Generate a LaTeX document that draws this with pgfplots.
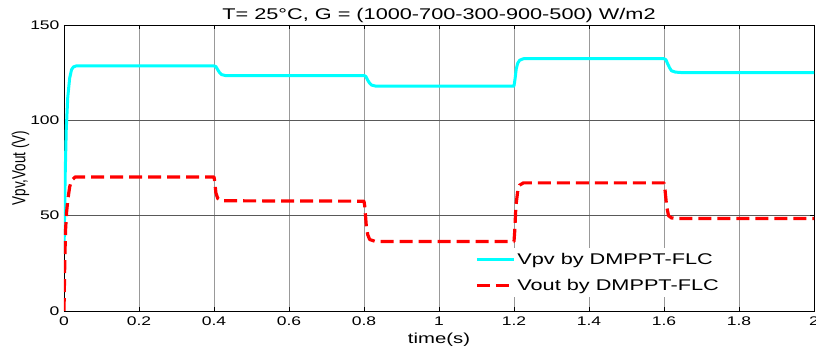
\documentclass[border=0pt]{standalone}
\usepackage{fontspec}
\setmainfont{Liberation Sans}[FakeStretch=1.4]
\newfontfamily\plainsans{Liberation Sans}
\usepackage{pgfplots}
\pgfplotsset{compat=1.18}
\usepackage{graphicx}

\definecolor{vpvcol}{RGB}{0,255,255}
\definecolor{voutcol}{RGB}{255,0,0}

\begin{document}
\begin{tikzpicture}
\begin{axis}[
  name=ax,
  scale only axis,
  width=750pt, height=286pt,
  xmin=0, xmax=2, ymin=0, ymax=150,
  xtick={0,0.2,...,2.01},
  ytick={0,50,100,150},
  xticklabels={0,0.2,0.4,0.6,0.8,1,1.2,1.4,1.6,1.8,2},
  tick align=inside,
  major tick length=4pt,
  tick style={black, line width=0.6pt},
  axis line style={black, line width=0.9pt},
  /pgf/number format/assume math mode=true,
  tick label style={font=\fontsize{12.5}{14}\selectfont},
  xticklabel style={yshift=-2pt},
  yticklabel style={xshift=-1pt},
  grid=major,
  x grid style={black!40, line width=0.8pt},
  y grid style={black!65, line width=0.6pt},
  title={T= 25°C, G = (1000-700-300-900-500) W/m2},
  title style={font=\fontsize{15.5}{17}\selectfont, yshift=-7pt},
  xlabel={time(s)},
  xlabel style={font=\fontsize{14.5}{16}\selectfont, yshift=-1pt},
  ylabel={\scalebox{1}[1.4]{\plainsans\fontsize{13.5}{15}\selectfont Vpv,Vout (V)}},
  ylabel style={xshift=0pt, yshift=-6pt},
  legend cell align=left,
  legend style={
    at={(0.54,0.22)}, anchor=north west,
    draw=none, fill=white,
    font=\fontsize{15.5}{17}\selectfont,
    row sep=9pt, inner xsep=6pt, inner ysep=3pt,
  },
  legend image code/.code={\draw[#1] (0pt,0pt) -- (37pt,0pt);},
]
% PV-side voltage of the DMPPT-FLC converter
\addplot[vpvcol, line width=3pt, line join=round] coordinates {
  (0,30) (0.003,70) (0.006,95) (0.01,112) (0.015,122) (0.02,126.5)
  (0.025,128) (0.032,128.5) (0.4,128.5) (0.405,128.2) (0.41,126.5)
  (0.415,125) (0.42,124) (0.43,123.5) (0.8,123.5) (0.805,123) (0.81,121)
  (0.815,119.5) (0.82,118.5) (0.83,118) (1.2,118) (1.203,122) (1.206,127)
  (1.21,130) (1.215,131.5) (1.225,132.3) (1.6,132.3) (1.605,131.8)
  (1.61,129.5) (1.615,127.5) (1.62,126) (1.63,125.3) (1.65,125) (2.0,125)
};
\addlegendentry{Vpv by DMPPT-FLC}
% Output voltage of the DMPPT-FLC converter
\addplot[voutcol, line width=3.2pt, dash pattern=on 13pt off 6pt, line join=round] coordinates {
  (0,0) (0.002,25) (0.004,42) (0.007,52) (0.01,58) (0.015,65) (0.02,68.5)
  (0.03,70.3) (0.4,70.3) (0.402,68) (0.405,62) (0.41,59) (0.42,57.8)
  (0.8,57.6) (0.802,55) (0.806,45) (0.81,40) (0.815,37.5) (0.83,36.5)
  (1.2,36.5) (1.202,42) (1.205,55) (1.21,63) (1.215,66) (1.225,67.2)
  (1.6,67.2) (1.603,63) (1.607,55) (1.612,50) (1.62,48.8) (1.64,48.5)
  (2.0,48.5)
};
\addlegendentry{Vout by DMPPT-FLC}
\end{axis}
\pgfresetboundingbox
\path ([shift={(-64pt,-41pt)}]ax.south west) rectangle ([shift={(2pt,25pt)}]ax.north east);
\end{tikzpicture}
\end{document}
